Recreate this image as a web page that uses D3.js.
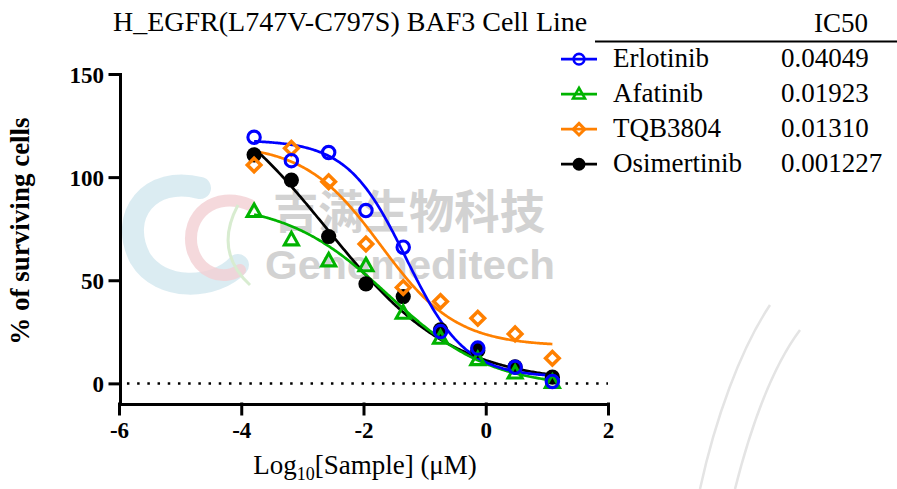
<!DOCTYPE html>
<html><head><meta charset="utf-8">
<script src="https://cdn.jsdelivr.net/npm/d3@7"></script>
<style>body{margin:0;background:#fff}svg{display:block}</style>
</head><body>
<script>
// ---- data ----
const logConc = [-3.79, -3.18, -2.57, -1.96, -1.35, -0.74, -0.13, 0.48, 1.09];
const seriesNames = ["Erlotinib", "Afatinib", "TQB3804", "Osimertinib"];
const ic50Labels = ["0.04049", "0.01923", "0.01310", "0.001227"];
const erlotinib = [119.3, 108, 111.9, 83.8, 66, 25.1, 17.1, 7.8, 0.9];
const afatinib = [83.3, 69.6, 59.4, 57, 34, 21.9, 11.5, 5, 0.5];
const tqb3804 = [105.9, 114, 97.8, 67.6, 46.5, 39.7, 31.6, 24, 12.2];
const osimertinib = [110.8, 98.6, 71.2, 48.2, 42.1, 26, 16, 8, 3];
// fitted 4PL curve parameters: [top, bottom, logIC50, hill]
const fitErlotinib = [118, 3, -1.3, 0.9];
const fitAfatinib = [88, -2, -1.6, 0.52];
const fitTqb3804 = [116, 18, -1.72, 0.7];
const fitOsimertinib = [150, 0, -2.6, 0.42];
const xTicks = [-6, -4, -2, 0, 2];
const yTicks = [0, 50, 100, 150];
const titleText = "H_EGFR(L747V-C797S) BAF3 Cell Line";

const W = 897, H = 489;
const serif = "'Liberation Serif','Times New Roman',serif";
const svg = d3.select("body").append("svg").attr("width", W).attr("height", H);

const x = d3.scaleLinear().domain([-6, 2]).range([119, 608]);
const y = d3.scaleLinear().domain([-10, 150]).range([404, 74]);

// ---- watermark (behind) ----
const wm = svg.append("g");
wm.append("path").attr("d", "M200,188 C150,175 118,215 140,258 C160,292 215,290 238,265")
  .attr("fill", "none").attr("stroke", "#cfe6ee").attr("stroke-width", 22).attr("opacity", 0.75).attr("stroke-linecap", "round");
wm.append("path").attr("d", "M250,205 C215,190 185,215 192,248 C198,272 222,282 240,270")
  .attr("fill", "none").attr("stroke", "#f3cfd3").attr("stroke-width", 12).attr("opacity", 0.8).attr("stroke-linecap", "round");
wm.append("path").attr("d", "M238,205 C222,235 225,262 250,285")
  .attr("fill", "none").attr("stroke", "#d8ecd0").attr("stroke-width", 3);
wm.append("text").attr("x", 273).attr("y", 228).attr("textLength", 272).attr("lengthAdjust", "spacingAndGlyphs")
  .attr("font-family", "'Noto Sans CJK SC',sans-serif").attr("font-weight", "bold").attr("font-size", 46)
  .attr("fill", "#d2d2d2").text("吉满生物科技");
wm.append("text").attr("x", 265).attr("y", 279).attr("textLength", 290).attr("lengthAdjust", "spacingAndGlyphs")
  .attr("font-family", "'Liberation Sans',Arial,sans-serif").attr("font-weight", "bold").attr("font-size", 40)
  .attr("fill", "#d2d2d2").text("Genemeditech");
wm.append("path").attr("d", "M700,489 C715,420 740,350 770,305").attr("fill", "none").attr("stroke", "#e4e4e4").attr("stroke-width", 2.5);
wm.append("path").attr("d", "M735,489 C750,430 770,370 800,330").attr("fill", "none").attr("stroke", "#e4e4e4").attr("stroke-width", 2.5);

// ---- axes ----
const fmt = d => String(d);
const yAxis = svg.append("g").attr("transform", "translate(120,0)")
  .call(d3.axisLeft(y).tickValues(yTicks).tickFormat(fmt).tickSize(10).tickSizeOuter(0).tickPadding(6));
const xAxis = svg.append("g").attr("transform", "translate(0,404)")
  .call(d3.axisBottom(x).tickValues(xTicks).tickFormat(fmt).tickSize(10).tickSizeOuter(0).tickPadding(8));
[yAxis, xAxis].forEach(g => {
  g.selectAll("path,line").attr("stroke", "#000").attr("stroke-width", 3).attr("stroke-linecap", "square");
  g.selectAll("text").attr("font-family", serif).attr("font-weight", "bold").attr("font-size", 23).attr("fill", "#000");
});
xAxis.selectAll("text").attr("dy", "0.71em");
yAxis.selectAll("text").attr("dy", "0.35em");

// zero reference line
svg.append("line").attr("x1", x(-5.87)).attr("x2", x(2)).attr("y1", y(0)).attr("y2", y(0))
  .attr("stroke", "#000").attr("stroke-width", 2.5).attr("stroke-dasharray", "2.5 7.7");

// axis labels
svg.append("text").attr("transform", `translate(29,${231}) rotate(-90)`).attr("text-anchor", "middle")
  .attr("font-family", serif).attr("font-weight", "bold").attr("font-size", 27).text("% of surviving cells");
const xl = svg.append("text").attr("x", 365).attr("y", 474).attr("text-anchor", "middle")
  .attr("font-family", serif).attr("font-size", 27);
xl.append("tspan").text("Log");
xl.append("tspan").attr("font-size", 18).attr("dy", 6).text("10");
xl.append("tspan").attr("dy", -6).text("[Sample] (μM)");

// title & table header
svg.append("text").attr("x", 113).attr("y", 31).attr("font-family", serif).attr("font-size", 28).text(titleText);
svg.append("text").attr("x", 868).attr("y", 32).attr("text-anchor", "end").attr("font-family", serif).attr("font-size", 27).text("IC50");
svg.append("line").attr("x1", 595).attr("x2", 897).attr("y1", 41.5).attr("y2", 41.5).attr("stroke", "#000").attr("stroke-width", 2);

// ---- series ----
const colors = ["#0000ff", "#00b300", "#ff8000", "#000000"];
const values = [erlotinib, afatinib, tqb3804, osimertinib];
const fits = [fitErlotinib, fitAfatinib, fitTqb3804, fitOsimertinib];
const shapes = ["circle", "triangle", "diamond", "dot"];

function fourPL(p, xv) { return p[1] + (p[0] - p[1]) / (1 + Math.pow(10, (xv - p[2]) * p[3])); }

const line = d3.line().x(d => x(d[0])).y(d => y(d[1])).curve(d3.curveLinear);
const xs = d3.range(logConc[0], logConc[logConc.length - 1] + 0.001, 0.02);
const curveOrder = [3, 2, 1, 0];
curveOrder.forEach(i => {
  svg.append("path").datum(xs.map(v => [v, fourPL(fits[i], v)]))
    .attr("d", line).attr("fill", "none").attr("stroke", colors[i]).attr("stroke-width", 2.7);
});

function drawSymbol(g, shape, cx, cy, color, scale) {
  const s = scale || 1;
  if (shape === "circle") {
    g.append("circle").attr("cx", cx).attr("cy", cy).attr("r", 6.2 * s).attr("fill", "#fff")
      .attr("fill-opacity", 0).attr("stroke", color).attr("stroke-width", 3.1 * s);
  } else if (shape === "dot") {
    g.append("circle").attr("cx", cx).attr("cy", cy).attr("r", 7.6 * s).attr("fill", color);
  } else if (shape === "triangle") {
    const w = 14 * s, h = 12.5 * s;
    g.append("path").attr("d", `M${cx},${cy - h * 0.6}L${cx + w / 2},${cy + h * 0.4}L${cx - w / 2},${cy + h * 0.4}Z`)
      .attr("fill", "none").attr("stroke", color).attr("stroke-width", 3.1 * s).attr("stroke-linejoin", "miter");
  } else if (shape === "diamond") {
    const d = 6.8 * s;
    g.append("path").attr("d", `M${cx},${cy - d}L${cx + d},${cy}L${cx},${cy + d}L${cx - d},${cy}Z`)
      .attr("fill", "none").attr("stroke", color).attr("stroke-width", 3.5 * s).attr("stroke-linejoin", "miter");
  }
}

const pointOrder = [3, 1, 2, 0];
pointOrder.forEach(i => {
  const g = svg.append("g");
  values[i].forEach((v, j) => drawSymbol(g, shapes[i], x(logConc[j]), y(v), colors[i]));
});

// ---- legend table ----
const rowY = [66.7, 101.7, 136.7, 171.7];
seriesNames.forEach((name, i) => {
  const g = svg.append("g");
  const cy = rowY[i] - 7.5;
  g.append("line").attr("x1", 561).attr("x2", 597).attr("y1", cy).attr("y2", cy)
    .attr("stroke", colors[i]).attr("stroke-width", 2.8);
  drawSymbol(g, shapes[i], 579, cy, colors[i], 0.85);
  g.append("text").attr("x", 613).attr("y", rowY[i]).attr("font-family", serif).attr("font-size", 27).text(name);
  g.append("text").attr("x", 781).attr("y", rowY[i]).attr("font-family", serif).attr("font-size", 27).text(ic50Labels[i]);
});
</script>
</body></html>
